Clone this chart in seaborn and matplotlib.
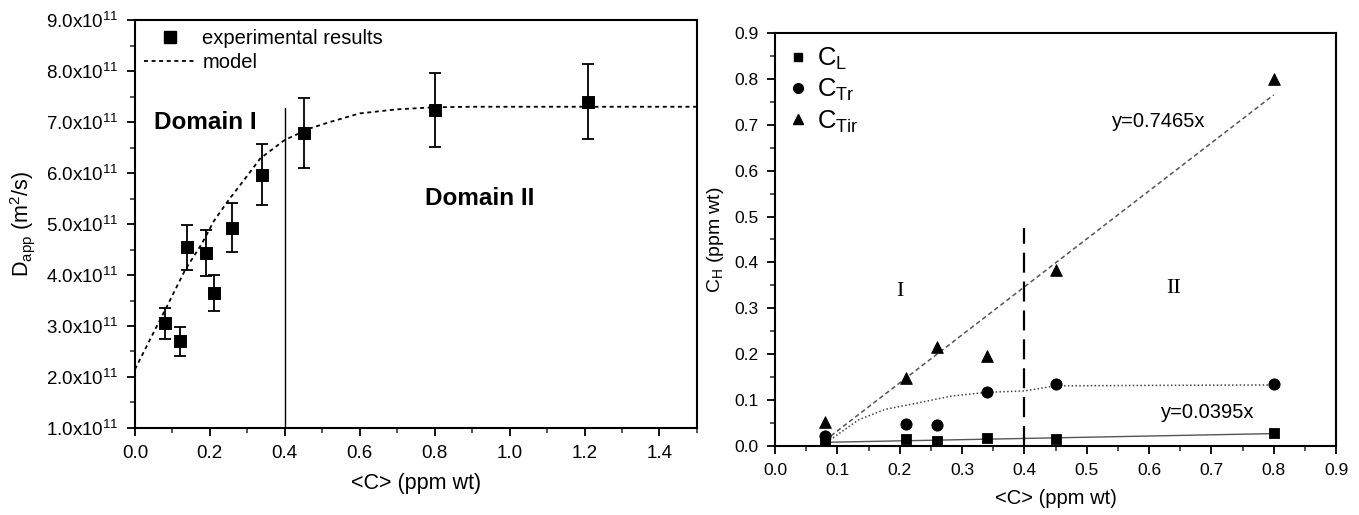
import numpy as np
import pandas as pd
import seaborn as sns
import matplotlib
matplotlib.use("Agg")
import matplotlib.pyplot as plt
from matplotlib.ticker import MultipleLocator, FuncFormatter
from matplotlib.lines import Line2D

sns.set_theme(style="ticks")
plt.rcParams['font.family'] = ['Liberation Sans', 'DejaVu Sans']
plt.rcParams['mathtext.default'] = 'regular'
plt.rcParams['text.color'] = 'black'
plt.rcParams['axes.labelcolor'] = 'black'

# --- Painel esquerdo: D_app vs <C> (unidades de 1e11 m2/s) ---
c_exp = [0.08, 0.12, 0.14, 0.19, 0.21, 0.26, 0.34, 0.45, 0.80, 1.21]
d_exp = [3.05, 2.70, 4.54, 4.44, 3.65, 4.93, 5.97, 6.79, 7.24, 7.40]
d_err = [0.31, 0.29, 0.45, 0.45, 0.36, 0.48, 0.59, 0.69, 0.72, 0.74]

c_model = [0.00, 0.04, 0.085, 0.134, 0.179, 0.21, 0.25, 0.295, 0.335, 0.40,
           0.469, 0.52, 0.60, 0.70, 0.80, 0.90, 1.50]
d_model = [2.15, 2.73, 3.38, 4.10, 4.62, 5.05, 5.47, 5.90, 6.29, 6.65,
           6.88, 7.00, 7.17, 7.25, 7.29, 7.30, 7.30]

# --- Painel direito: C_H vs <C> ---
c_pts = [0.08, 0.21, 0.26, 0.34, 0.45, 0.80]
c_L = [0.010, 0.015, 0.011, 0.018, 0.015, 0.028]
c_Tr = [0.022, 0.048, 0.046, 0.117, 0.134, 0.134]
c_Tir = [0.052, 0.149, 0.215, 0.196, 0.383, 0.800]

fit_tir_x = [0.08, 0.80]
fit_tir_y = [0.012, 0.765]
fit_L_x = [0.08, 0.80]
fit_L_y = [0.008, 0.027]
fit_tr_x = [0.088, 0.134, 0.177, 0.23, 0.284, 0.34, 0.40, 0.45, 0.60, 0.80]
fit_tr_y = [0.013, 0.057, 0.080, 0.094, 0.109, 0.117, 0.120, 0.131, 0.132, 0.133]

fig = plt.figure(figsize=(13.59, 5.15), dpi=100)
ax1 = fig.add_axes([0.0993, 0.169, 0.4135, 0.792])
ax2 = fig.add_axes([0.5703, 0.134, 0.4128, 0.802])

# Painel esquerdo
ax1.errorbar(c_exp, d_exp, yerr=d_err, fmt='none', ecolor='black',
             elinewidth=1.3, capsize=4, capthick=1.3, zorder=2)
sns.scatterplot(x=c_exp, y=d_exp, marker='s', color='black', s=70,
                edgecolor='black', ax=ax1, zorder=3)
sns.lineplot(x=c_model, y=d_model, color='black', linestyle=(0, (2.2, 2)),
             linewidth=1.3, sort=False, ax=ax1, zorder=1)
ax1.plot([0.4, 0.4], [1.0, 7.28], color='black', linewidth=1.0)

ax1.set_xlim(0, 1.5)
ax1.set_ylim(1.0, 9.0)
ax1.xaxis.set_major_locator(MultipleLocator(0.2))
ax1.xaxis.set_minor_locator(MultipleLocator(0.1))
ax1.yaxis.set_major_locator(MultipleLocator(1.0))
ax1.yaxis.set_minor_locator(MultipleLocator(0.5))
ax1.yaxis.set_major_formatter(FuncFormatter(lambda v, p: f"{v:.1f}x10$^{{11}}$"))
ax1.set_xlabel('<C> (ppm wt)', fontsize=15.5, labelpad=8)
ax1.set_ylabel('D$_{app}$ (m$^2$/s)', fontsize=15.5, labelpad=6)
ax1.text(0.05, 6.99, 'Domain I', fontsize=17.5, fontweight='bold', va='center')
ax1.text(0.92, 5.5, 'Domain II', fontsize=17.5, fontweight='bold', va='center', ha='center')

leg1 = [Line2D([], [], marker='s', color='black', linestyle='none', markersize=8),
        Line2D([], [], color='black', linestyle=(0, (2.2, 2)), linewidth=1.3)]
ax1.legend(leg1, ['experimental results', 'model'], loc='upper left',
           frameon=False, fontsize=14.5, handlelength=2.6, borderaxespad=0.25,
           borderpad=0.2, labelspacing=0.25, handletextpad=0.3)

# Painel direito
sns.lineplot(x=fit_tir_x, y=fit_tir_y, color='#555555', linestyle=(0, (3, 2)),
             linewidth=1.1, ax=ax2)
sns.lineplot(x=fit_tr_x, y=fit_tr_y, color='#444444', linestyle=(0, (1, 1.5)),
             linewidth=1.1, ax=ax2)
sns.lineplot(x=fit_L_x, y=fit_L_y, color='#555555', linewidth=1.0, ax=ax2)
ax2.plot([0.4, 0.4], [0.0, 0.475], color='black', linewidth=1.6,
         linestyle=(0, (9, 4)))

sns.scatterplot(x=c_pts, y=c_L, marker='s', color='black', s=55, edgecolor='black', ax=ax2, zorder=3)
sns.scatterplot(x=c_pts, y=c_Tr, marker='o', color='black', s=65, edgecolor='black', ax=ax2, zorder=3)
sns.scatterplot(x=c_pts, y=c_Tir, marker='^', color='black', s=70, edgecolor='black', ax=ax2, zorder=3)

ax2.set_xlim(0, 0.9)
ax2.set_ylim(0, 0.9)
ax2.xaxis.set_major_locator(MultipleLocator(0.1))
ax2.xaxis.set_minor_locator(MultipleLocator(0.05))
ax2.yaxis.set_major_locator(MultipleLocator(0.1))
ax2.yaxis.set_minor_locator(MultipleLocator(0.05))
ax2.xaxis.set_major_formatter(FuncFormatter(lambda v, p: f"{v:.1f}"))
ax2.yaxis.set_major_formatter(FuncFormatter(lambda v, p: f"{v:.1f}"))
ax2.set_xlabel('<C> (ppm wt)', fontsize=14.5, labelpad=8)
ax2.set_ylabel('C$_H$ (ppm wt)', fontsize=14, labelpad=6)

ax2.text(0.2, 0.336, 'I', fontsize=16, family='Liberation Serif', ha='center', va='center')
ax2.text(0.64, 0.344, 'II', fontsize=16, family='Liberation Serif', ha='center', va='center')
ax2.text(0.616, 0.707, 'y=0.7465x', fontsize=14.5, ha='center', va='center')
ax2.text(0.694, 0.073, 'y=0.0395x', fontsize=14.5, ha='center', va='center')

leg2 = [Line2D([], [], marker='s', color='black', linestyle='none', markersize=6),
        Line2D([], [], marker='o', color='black', linestyle='none', markersize=7),
        Line2D([], [], marker='^', color='black', linestyle='none', markersize=7)]
ax2.legend(leg2, ['C$_L$', 'C$_{Tr}$', 'C$_{Tir}$'], loc='upper left',
           frameon=False, fontsize=18.5, handlelength=0.8, borderaxespad=0.4,
           borderpad=0.1, labelspacing=0.2, handletextpad=0.35)

for ax, lsize in ((ax1, 13.5), (ax2, 12.5)):
    for s in ax.spines.values():
        s.set_linewidth(1.5)
        s.set_color('black')
    ax.tick_params(which='major', direction='out', length=6, width=1.3, pad=6,
                   labelsize=lsize, colors='black', top=False, right=False)
    ax.tick_params(which='minor', direction='out', length=3.5, width=1.1,
                   top=False, right=False, left=True, bottom=True)
    ax.grid(False)

fig.savefig('out.png', dpi=100)
